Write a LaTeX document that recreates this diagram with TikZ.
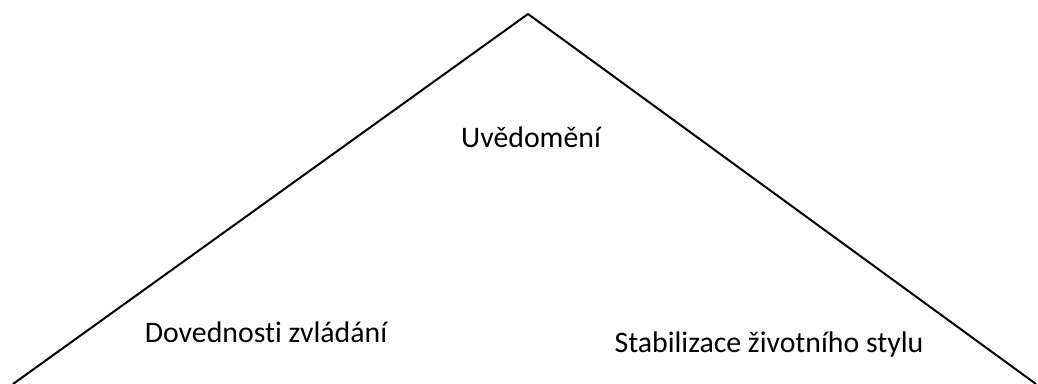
\documentclass[tikz,border=0pt]{standalone}
\usepackage{fontspec}
\setmainfont{Carlito}[Ligatures={NoCommon}]
\begin{document}
\begin{tikzpicture}[x=1pt,y=-1pt,
  edge/.style={draw=black,line width=2pt,line join=miter},
  label/.style={anchor=base,inner sep=0pt,font=\fontsize{29.8}{34}\selectfont}]
  \useasboundingbox (0,0) rectangle (1038,383);
  % corners of the open triangle
  \coordinate (left) at (13,384);
  \coordinate (apex) at (528,14);
  \coordinate (right) at (1036,384);
  \draw[edge] (left) -- (apex) -- (right);
  % labels
  \node[label] (aware) at (531,147) {Uvědomění};
  \node[label] (coping) at (266,342) {Dovednosti zvládání};
  \node[label] (lifestyle) at (769,352) {Stabilizace životního stylu};
\end{tikzpicture}
\end{document}
